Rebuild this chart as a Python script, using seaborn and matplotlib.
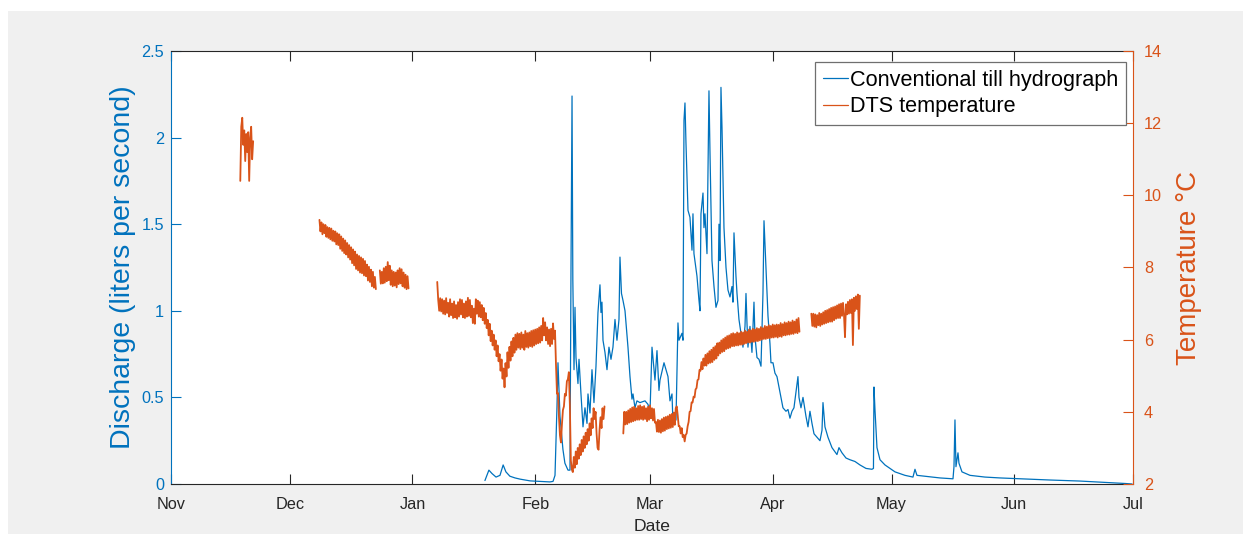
import numpy as np
import pandas as pd
import matplotlib
matplotlib.use("Agg")
import matplotlib.pyplot as plt
import matplotlib.dates as mdates
from matplotlib.lines import Line2D
from matplotlib.patches import Rectangle
from matplotlib.ticker import FuncFormatter, MultipleLocator
import seaborn as sns

BLUE = "#0072BD"
ORANGE = "#D95319"
AXCOL = "#262626"
ORIGIN = pd.Timestamp("2015-11-01")

# Outlet discharge (day after 1 Nov 2015, liters per second)
q_day = [
    79.3, 80.3, 81.1, 82.1, 83.1, 83.9, 84.6, 85.6, 86.9, 88.2,
    90.7, 93.2, 95.7, 96.5, 97.0, 97.25, 97.5, 97.75, 98.0, 98.26,
    98.76, 99.0, 99.5, 100.28, 100.78, 101.04, 101.3, 101.5, 101.8, 102.05,
    102.3, 102.8, 103.06, 103.56, 104.07, 104.57, 105.08, 105.33, 105.83, 106.34,
    106.84, 107.35, 107.85, 108.36, 108.61, 108.86, 109.12, 109.62, 110.13, 110.63,
    111.14, 111.64, 112.15, 112.65, 113.16, 113.41, 113.79, 114.17, 114.68, 115.43,
    115.94, 116.44, 116.7, 117.2, 117.7, 118.46, 119.73, 120.48, 120.99, 121.5,
    122.25, 122.76, 123.26, 123.52, 124.53, 125.54, 126.04, 126.55, 126.8, 127.56,
    128.06, 128.32, 129.07, 129.33, 129.58, 129.83, 130.08, 130.59, 131.09, 131.6,
    131.85, 132.1, 132.86, 133.37, 133.62, 133.87, 134.38, 134.63, 134.88, 135.39,
    135.89, 136.15, 136.65, 137.16, 137.66, 138.17, 138.42, 138.67, 138.92, 139.18,
    139.68, 140.19, 140.69, 141.2, 141.7, 141.95, 142.21, 142.71, 142.97, 143.47,
    143.98, 144.48, 144.99, 145.24, 145.49, 145.74, 146.25, 146.75, 147.26, 147.51,
    148.02, 148.52, 149.03, 149.53, 149.79, 150.29, 150.8, 151.3, 151.55, 152.06,
    152.56, 153.07, 153.57, 154.08, 154.58, 155.34, 155.85, 156.35, 156.86, 157.36,
    158.37, 158.63, 159.13, 159.64, 160.4, 160.9, 161.4, 161.91, 162.42, 163.17,
    163.93, 164.44, 164.69, 165.19, 165.95, 166.96, 168.22, 168.73, 169.49, 170.5,
    171.51, 172.77, 174.03, 175.55, 177.06, 177.44, 177.57, 177.82, 178.33, 179.09,
    180.35, 181.61, 182.88, 185.4, 187.42, 187.93, 188.43, 190.45, 194.24, 197.53,
    197.78, 198.03, 198.28, 198.79, 199.04, 199.8, 201.82, 205.61, 209.4, 214.45,
    222.03, 229.6, 237.18, 240.97, 242.74,
]
q_val = [
    0.02, 0.08, 0.06, 0.04, 0.05, 0.11, 0.07, 0.045, 0.035, 0.028,
    0.018, 0.015, 0.012, 0.015, 0.05, 0.25, 0.45, 0.70, 0.55, 0.39,
    0.26, 0.20, 0.12, 0.08, 0.08, 1.25, 2.24, 1.18, 0.66, 1.02,
    0.73, 0.58, 0.72, 0.52, 0.33, 0.44, 0.35, 0.52, 0.41, 0.66,
    0.47, 0.68, 0.99, 1.15, 0.99, 1.05, 0.83, 0.76, 0.66, 0.79,
    0.72, 0.79, 0.95, 0.83, 0.95, 1.31, 1.10, 1.06, 1.00, 0.79,
    0.62, 0.49, 0.52, 0.44, 0.48, 0.47, 0.48, 0.46, 0.41, 0.79,
    0.60, 0.77, 0.54, 0.60, 0.70, 0.62, 0.48, 0.52, 0.35, 0.37,
    0.93, 0.83, 0.87, 0.83, 2.10, 2.20, 1.97, 1.58, 1.54, 1.35,
    1.56, 1.33, 1.20, 1.06, 1.00, 1.56, 1.68, 1.48, 1.56, 1.33,
    2.27, 1.91, 1.29, 1.14, 1.02, 1.06, 1.50, 1.29, 2.29, 2.06,
    1.48, 1.25, 1.12, 1.08, 1.14, 1.05, 1.45, 1.20, 1.10, 0.95,
    0.87, 0.79, 0.91, 1.10, 0.93, 0.79, 0.91, 0.76, 1.05, 0.85,
    0.73, 0.72, 0.68, 1.10, 1.52, 1.25, 0.97, 0.81, 0.70, 0.70,
    0.64, 0.62, 0.56, 0.50, 0.44, 0.42, 0.43, 0.38, 0.42, 0.44,
    0.62, 0.50, 0.44, 0.50, 0.39, 0.33, 0.42, 0.35, 0.29, 0.27,
    0.25, 0.31, 0.47, 0.33, 0.27, 0.21, 0.17, 0.21, 0.18, 0.15,
    0.14, 0.13, 0.11, 0.09, 0.085, 0.09, 0.56, 0.43, 0.21, 0.14,
    0.11, 0.09, 0.07, 0.05, 0.04, 0.085, 0.05, 0.045, 0.035, 0.03,
    0.10, 0.37, 0.10, 0.18, 0.12, 0.07, 0.05, 0.04, 0.035, 0.03,
    0.023, 0.017, 0.008, 0.003, 0.0,
]

# DTS temperature (deg C), 6-hourly readings for each logging run
temp_nov = [10.4, 11.9, 12.15, 11.4, 11.8, 10.95, 11.7, 11.2, 11.75, 10.4, 11.6, 11.9, 11.0, 11.5]
temp_dec_a = [
    9.32, 9.00, 9.25, 8.92, 9.20, 8.95, 9.18, 8.85, 9.12, 8.82, 9.10, 8.78,
    9.08, 8.74, 9.02, 8.72, 9.00, 8.64, 8.95, 8.62, 8.92, 8.52, 8.86, 8.46,
    8.80, 8.40, 8.75, 8.36, 8.68, 8.28, 8.62, 8.22, 8.56, 8.12, 8.50, 8.06,
    8.44, 7.96, 8.36, 7.92, 8.32, 7.86, 8.28, 7.84, 8.24, 7.78, 8.18, 7.76,
    8.08, 7.64, 8.02, 7.60, 7.94, 7.48, 7.88, 7.44, 7.74, 7.40,
]
temp_dec_b = [
    7.92, 7.55, 7.88, 7.56, 7.98, 7.58, 8.02, 7.62, 8.15, 7.65, 8.05, 7.52,
    7.92, 7.48, 7.88, 7.50, 7.86, 7.45, 7.92, 7.54, 7.98, 7.56, 7.95, 7.48,
    7.86, 7.44, 7.80, 7.40, 7.76, 7.42,
]
temp_jan_feb = [
    7.60, 7.10, 6.80,
    7.15, 6.78, 7.12, 6.72, 7.08, 6.70, 7.15, 6.74, 7.02, 6.64, 7.12, 6.68,
    7.00, 6.60, 7.06, 6.62, 6.96, 6.58, 7.04, 6.64, 7.12, 6.70, 7.10, 6.62,
    7.00, 6.60, 7.06, 6.64, 7.16, 6.66, 7.10, 6.62, 6.94, 6.46, 6.86, 6.44,
    7.12, 6.72, 7.08, 6.64, 7.04, 6.62, 6.96, 6.54, 6.88, 6.44, 6.74, 6.32,
    6.55, 6.12, 6.44, 5.96, 6.25, 5.84, 6.14, 5.72, 5.98, 5.54, 5.84, 5.40,
    5.60, 5.14, 5.45, 4.92, 5.20, 4.68, 5.35, 4.98, 5.65, 5.22, 5.80, 5.42,
    5.95, 5.54, 6.05, 5.64, 6.14, 5.72, 6.18, 5.78, 6.16, 5.74, 6.20, 5.78,
    6.14, 5.72, 6.24, 5.80, 6.18, 5.78, 6.20, 5.82, 6.24, 5.80, 6.26, 5.84,
    6.28, 5.88, 6.30, 5.90, 6.34, 5.92, 6.38, 5.98, 6.60, 6.12, 6.48, 5.98,
    6.34, 5.88, 6.28, 5.82, 6.30, 5.88, 6.45, 6.02, 6.25, 5.30, 4.50, 4.52,
    3.85, 3.35, 3.15, 3.65, 4.05, 4.15, 4.50, 4.45, 4.85, 4.90, 5.10, 4.20,
    2.65, 2.40, 2.33, 2.75, 2.45, 2.90, 2.55, 3.00, 2.70, 3.10, 2.80, 3.22,
    2.90, 3.32, 3.00, 3.42, 3.10, 3.52, 3.20, 3.68, 3.35, 3.82, 3.55, 4.10,
    3.80, 4.00, 3.40, 3.00, 2.95, 3.50, 3.85, 3.55, 4.10, 3.80, 4.15,
]
temp_mar_apr = [
    3.40, 4.00, 3.65,
    4.00, 3.66, 4.04, 3.70, 4.08, 3.72, 4.12, 3.74, 4.14, 3.76, 4.10, 3.78,
    4.16, 3.78, 4.18, 3.80, 4.14, 3.78, 4.16, 3.80, 4.10, 3.74, 4.14, 3.78,
    4.18, 3.82, 4.10, 3.76, 4.08, 3.70, 3.72, 3.45, 3.78, 3.44, 3.76, 3.42,
    3.80, 3.46, 3.84, 3.48, 3.86, 3.52, 3.88, 3.54, 3.92, 3.56, 3.94, 3.58,
    3.98, 3.64, 4.10, 4.15, 3.90, 3.60, 3.60, 3.40, 3.55, 3.30, 3.36, 3.18,
    3.36, 3.40, 3.60, 3.72, 4.00, 4.02, 4.26, 4.26, 4.42, 4.40, 4.62, 4.66,
    4.88, 4.90, 5.16, 5.14, 5.38, 5.18, 5.48, 5.28, 5.58, 5.28, 5.62, 5.34,
    5.68, 5.36, 5.72, 5.38, 5.78, 5.44, 5.82, 5.48, 5.90, 5.56, 5.92, 5.62,
    5.98, 5.66, 6.02, 5.68, 6.06, 5.74, 6.10, 5.76, 6.12, 5.78, 6.16, 5.82,
    6.18, 5.82, 6.16, 5.84, 6.20, 5.84, 6.18, 5.86, 6.22, 5.86, 6.20, 5.88,
    6.25, 5.90, 6.22, 5.92, 6.28, 5.92, 6.26, 5.94, 6.30, 5.94, 6.28, 5.96,
    6.32, 5.96, 6.30, 5.98, 6.35, 6.00, 6.32, 6.02, 6.38, 6.02, 6.36, 6.04,
    6.40, 6.04, 6.38, 6.06, 6.42, 6.06, 6.40, 6.08, 6.42, 6.06, 6.41, 6.09,
    6.46, 6.08, 6.43, 6.12, 6.48, 6.12, 6.46, 6.14, 6.50, 6.14, 6.48, 6.16,
    6.53, 6.16, 6.50, 6.19, 6.56, 6.18, 6.60, 6.22,
]
temp_apr = [
    6.72,
    6.38, 6.72, 6.36, 6.70, 6.34, 6.68, 6.40, 6.74, 6.38, 6.72, 6.42, 6.76,
    6.44, 6.80, 6.46, 6.82, 6.48, 6.85, 6.50, 6.88, 6.50, 6.90, 6.54, 6.92,
    6.58, 6.95, 6.60, 6.98, 6.60, 7.00, 6.66, 7.02, 6.68, 6.07, 6.98, 6.70,
    7.05, 6.72, 7.10, 6.74, 7.12, 5.85, 7.16, 6.80, 7.20, 6.85, 7.25, 6.30,
    7.22,
]
temp_runs = [temp_nov, temp_dec_a, temp_dec_b, temp_jan_feb, temp_mar_apr, temp_apr]
temp_run_start = [17.5, 37.5, 52.75, 67.25, 114.25, 161.75]

# tidy frames for seaborn
q_df = pd.DataFrame({
    "date": ORIGIN + pd.to_timedelta(q_day, unit="D"),
    "discharge": q_val,
})
frames = []
for run_id, (start, vals) in enumerate(zip(temp_run_start, temp_runs)):
    days = start + 0.25 * np.arange(len(vals))
    frames.append(pd.DataFrame({
        "date": ORIGIN + pd.to_timedelta(days, unit="D"),
        "temperature": vals,
        "run": run_id,
    }))
t_df = pd.concat(frames, ignore_index=True)

sns.set_style("white")
plt.rcParams["font.family"] = ["Liberation Sans", "DejaVu Sans"]

W, H = 1243, 535
fig = plt.figure(figsize=(W / 100, H / 100), dpi=100)
fig.patch.set_facecolor("white")
fig.patches.append(Rectangle((8 / W, 1 / H), 1, (H - 12) / H, transform=fig.transFigure,
                             facecolor="#F0F0F0", edgecolor="none", zorder=-10))

ax = fig.add_axes([171 / W, 1 - 484 / H, 962 / W, 433 / H])
ax.set_facecolor("white")
ax2 = ax.twinx()

sns.lineplot(data=q_df, x="date", y="discharge", ax=ax, color=BLUE, lw=0.9,
             estimator=None, sort=False)
sns.lineplot(data=t_df, x="date", y="temperature", units="run", ax=ax2, color=ORANGE,
             lw=1.3, estimator=None, sort=False)

ax.set_xlim(pd.Timestamp("2015-11-01"), pd.Timestamp("2016-07-01"))
ax.set_ylim(0, 2.5)
ax2.set_ylim(2, 14)

ax.xaxis.set_major_locator(mdates.MonthLocator())
ax.xaxis.set_major_formatter(mdates.DateFormatter("%b"))
ax.yaxis.set_major_locator(MultipleLocator(0.5))
ax.yaxis.set_major_formatter(FuncFormatter(lambda v, p: f"{v:g}"))
ax2.yaxis.set_major_locator(MultipleLocator(2))

# spines
for s in ("top", "bottom"):
    ax.spines[s].set_color(AXCOL)
    ax.spines[s].set_linewidth(0.8)
    ax2.spines[s].set_visible(False)
ax.spines["left"].set_color(BLUE)
ax.spines["left"].set_linewidth(0.8)
ax.spines["right"].set_visible(False)
ax2.spines["left"].set_visible(False)
ax2.spines["right"].set_color(ORANGE)
ax2.spines["right"].set_linewidth(0.8)

ax.tick_params(axis="x", which="major", direction="in", length=7, width=0.8,
               top=True, bottom=True, color=AXCOL, labelcolor=AXCOL, labelsize=11.7, pad=9.5)
ax.tick_params(axis="y", which="major", direction="in", length=7, width=0.8,
               left=True, right=False, color=BLUE, labelcolor=BLUE, labelsize=11.7, pad=5)
ax2.tick_params(axis="y", which="major", direction="in", length=7, width=0.8,
                right=True, left=False, color=ORANGE, labelcolor=ORANGE, labelsize=11.7, pad=8)

ax.set_xlabel("Date", fontsize=12.6, color=AXCOL, labelpad=5)
ax.set_ylabel("Discharge (liters per second)", fontsize=20.5, color=BLUE, labelpad=4)
ax2.set_ylabel("Temperature °C", fontsize=20, color=ORANGE, labelpad=10)

handles = [Line2D([], [], color=BLUE, lw=0.9), Line2D([], [], color=ORANGE, lw=0.9)]
leg = ax2.legend(handles, ["Conventional till hydrograph", "DTS temperature"],
                 loc="upper right", bbox_to_anchor=(1 - 7 / 962, 1 - 11 / 433),
                 borderaxespad=0, fontsize=15.6, frameon=True, fancybox=False,
                 framealpha=1, edgecolor="#6f6f6f", handlelength=1.15,
                 handletextpad=0.1, labelspacing=0.25, borderpad=0.36)
leg.get_frame().set_linewidth(0.9)
for t in leg.get_texts():
    t.set_color("black")

fig.savefig("out.png", dpi=100)
